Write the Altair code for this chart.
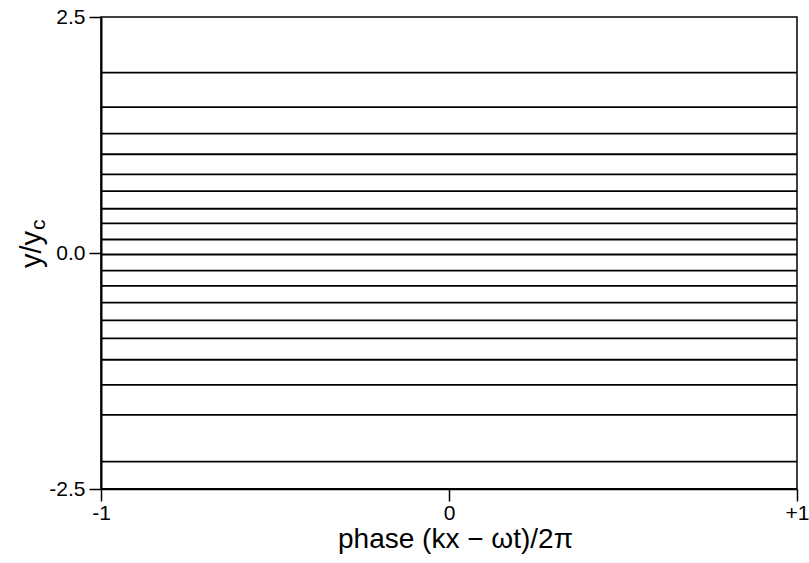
import altair as alt
import pandas as pd

# --- data ---
line_levels = [1.91, 1.545, 1.265, 1.046, 0.833, 0.656, 0.469, 0.313, 0.143,
               -0.016, -0.186, -0.348, -0.525, -0.713, -0.904, -1.131,
               -1.396, -1.714, -2.21, -2.5]
phase_ends = [-1.0, 1.0]
x_ticks = [-1, 0, 1]
y_ticks = [-2.5, 0.0, 2.5]
x_title = "phase (kx \u2212 \u03c9t)/2\u03c0"
y_title_main = ["y/y"]
y_title_sub = ["c"]

rows = [{"line": i, "phase": p, "y": v}
        for i, v in enumerate(line_levels) for p in phase_ends]
df = pd.DataFrame(rows)

FONT = "Liberation Sans"

lines = alt.Chart(df).mark_line(color="black", strokeWidth=1.8).encode(
    x=alt.X("phase:Q",
            scale=alt.Scale(domain=[-1, 1], nice=False, zero=False),
            axis=alt.Axis(values=x_ticks,
                          labelExpr="datum.value > 0 ? '+' + datum.value : (datum.value < 0 ? '-' + (-datum.value) : '0')",
                          title=x_title, titleFont=FONT, titleFontSize=28,
                          titleFontWeight="normal", titleColor="black",
                          titlePadding=2, titleX=354,
                          labelFont=FONT, labelFontSize=21, labelColor="black",
                          labelPadding=1, labelFlush=False, labelOverlap=False,
                          tickSize=12, tickColor="black", tickWidth=1.5,
                          domainColor="black", domainWidth=1.5, grid=False)),
    y=alt.Y("y:Q",
            scale=alt.Scale(domain=[-2.5, 2.5], nice=False, zero=False),
            axis=alt.Axis(values=y_ticks,
                          labelExpr="datum.value < 0 ? '-' + format(-datum.value, '.1f') : format(datum.value, '.1f')",
                          title=None,
                          labelFont=FONT, labelFontSize=21, labelColor="black",
                          labelPadding=4, labelFlush=False, labelOverlap=False,
                          tickSize=12, tickColor="black", tickWidth=1.5,
                          domainColor="black", domainWidth=2, grid=False)),
    detail="line:N",
)

ytitle_main = alt.Chart(pd.DataFrame({"t": y_title_main})).mark_text(
    angle=270, align="left", baseline="alphabetic", font=FONT, fontSize=29, color="black"
).encode(x=alt.value(-60), y=alt.value(251), text="t:N")

ytitle_sub = alt.Chart(pd.DataFrame({"t": y_title_sub})).mark_text(
    angle=270, align="left", baseline="alphabetic", font=FONT, fontSize=21, color="black"
).encode(x=alt.value(-56), y=alt.value(213), text="t:N")

chart = alt.layer(lines, ytitle_main, ytitle_sub).properties(
    width=696, height=472,
    padding={"left": 101, "top": 17, "right": 12, "bottom": 74},
    autosize=alt.AutoSizeParams(type="none"),
    background="white",
).configure_view(stroke="black", strokeWidth=1.5)

chart.save("out.html", embed_options={"renderer": "svg", "actions": False})
